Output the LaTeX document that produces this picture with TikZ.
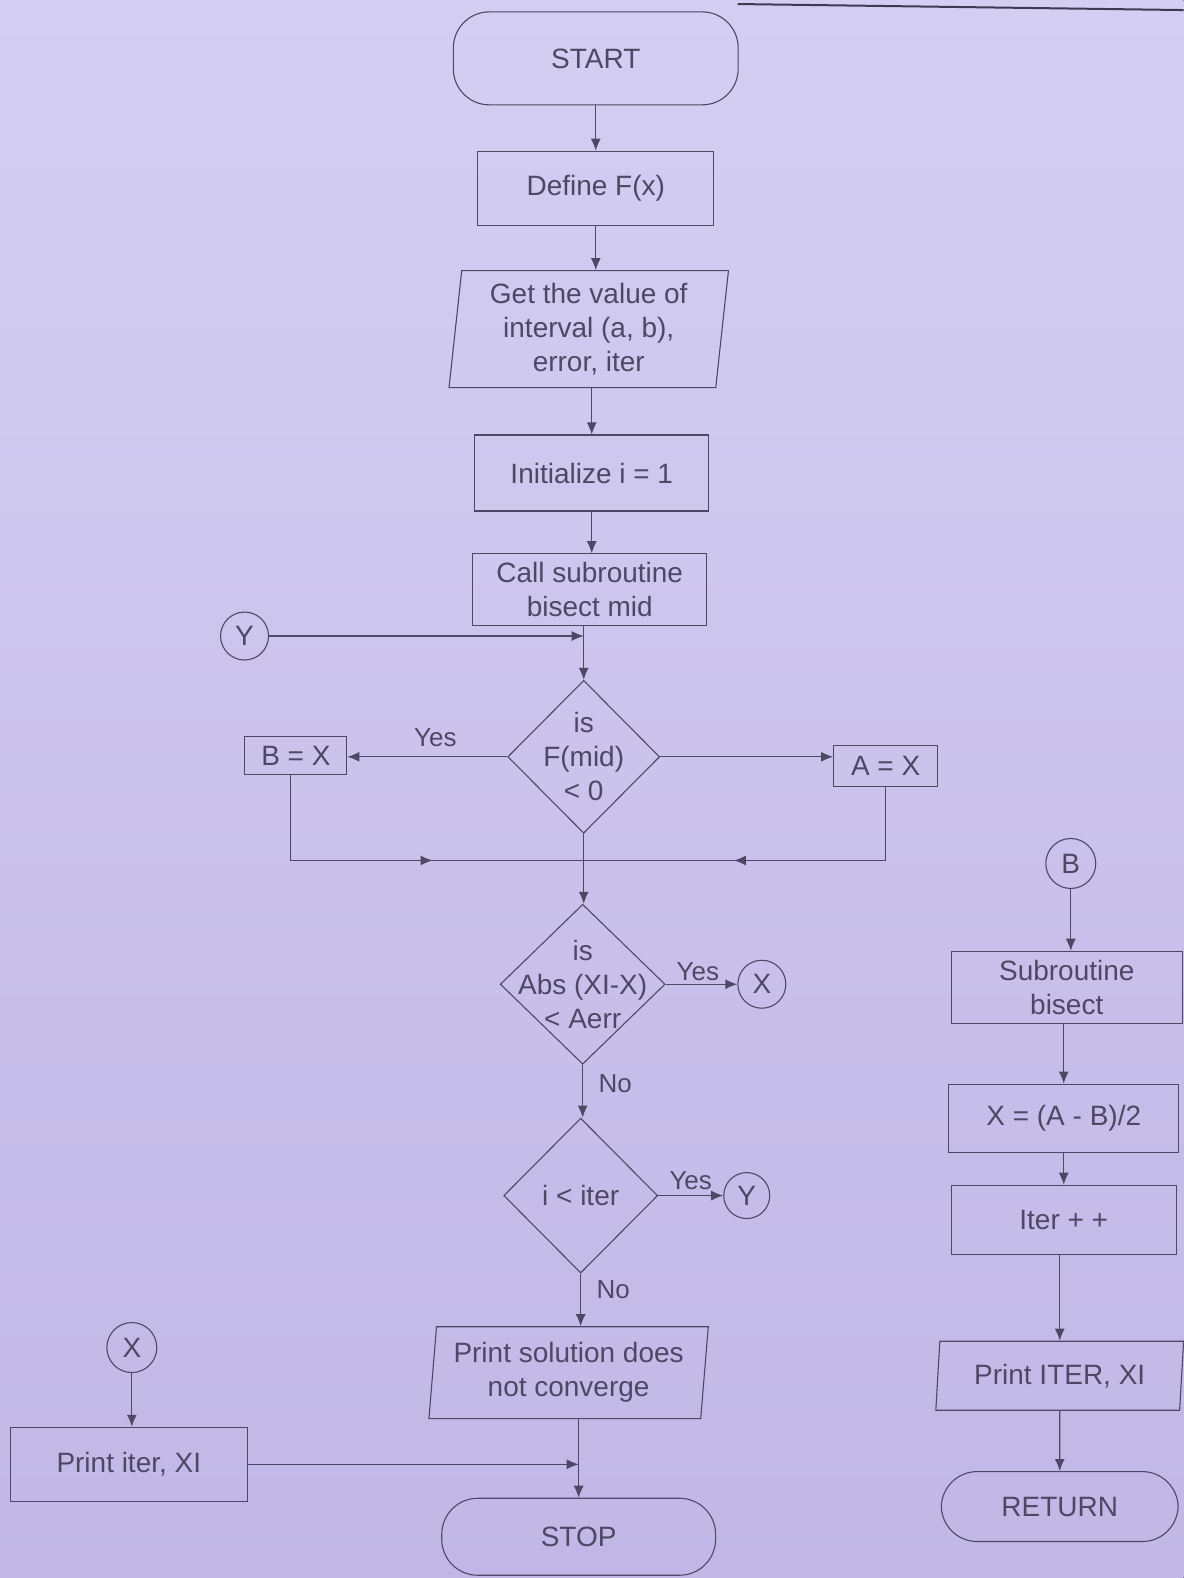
\documentclass[tikz,border=0pt]{standalone}
\usepackage{fontspec}
\setmainfont{Liberation Sans}
\usetikzlibrary{shapes.geometric,arrows.meta,decorations.markings}
\definecolor{ink}{RGB}{78,72,102}
\definecolor{bgtop}{RGB}{212,206,242}
\definecolor{bgbot}{RGB}{192,183,230}
\begin{document}
\begin{tikzpicture}[x=1.007pt,y=-1.007pt,
  every node/.style={text=ink,font=\fontsize{28}{34}\selectfont,align=center},
  box/.style={draw=ink,line width=1.1pt,rectangle,inner sep=2pt},
  term/.style={draw=ink,line width=1.1pt,rectangle,rounded corners=36pt,inner sep=2pt},
  io/.style={draw=ink,line width=1.1pt,trapezium,trapezium left angle=84,trapezium right angle=96,trapezium stretches=true,inner sep=2pt},
  dia/.style={draw=ink,line width=1.1pt,diamond,inner sep=0pt},
  conn/.style={draw=ink,line width=1.1pt,circle,inner sep=0pt},
  lbl/.style={font=\fontsize{26}{30}\selectfont},
  arr/.style={draw=ink,line width=1.1pt,-{Latex[length=12pt,width=10pt]}},
  ln/.style={draw=ink,line width=1.1pt},
  midarr/.style={draw=ink,line width=1.1pt,postaction={decorate},
    decoration={markings,mark=at position #1 with {\arrow{Latex[length=12pt,width=10pt]}}}}
]
\fill[top color=bgtop,bottom color=bgbot] (0,0) rectangle (1176,1568);
\useasboundingbox (0,0) rectangle (1176,1568);
\draw[line width=2pt,draw=ink!80!black] (733,4) -- (1176,10);

% main column
\node[term,minimum width=285pt,minimum height=93pt] (start) at (592,58) {START};
\node[box,minimum width=236pt,minimum height=74pt] (def) at (592,187) {Define F(x)};
\node[io,minimum width=280pt,minimum height=117pt] (get) at (585,327) {Get the value of\\interval (a, b),\\error, iter};
\node[box,minimum width=234pt,minimum height=76pt] (init) at (588,470) {Initialize i = 1};
\node[box,minimum width=234pt,minimum height=72pt] (call) at (586,586) {Call subroutine\\bisect mid};
\node[conn,minimum size=48pt] (y1) at (243,632) {Y};

\node[dia,minimum width=152pt,minimum height=153pt] (d1) at (580,752) {};
\node at (d1) {is\\F(mid)\\< 0};
\node[box,minimum width=102pt,minimum height=38pt] (bx) at (294,751) {B = X};
\node[box,minimum width=104pt,minimum height=41pt] (ax) at (880,761) {A = X};
\coordinate (mj) at (580,855);

\node[dia,minimum width=165pt,minimum height=160pt] (d2) at (579,978) {};
\node at (d2) {is\\Abs (XI-X)\\< Aerr};
\node[conn,minimum size=48pt] (x1) at (757,978) {X};

\node[dia,minimum width=154pt,minimum height=155pt] (d3) at (577,1188) {};
\node at (d3) {i < iter};
\node[conn,minimum size=46pt] (y2) at (742,1188) {Y};

\node[io,minimum width=280pt,minimum height=92pt] (ps) at (565,1364) {Print solution does\\not converge};
\node[term,minimum width=274pt,minimum height=77pt] (stop) at (575,1527) {STOP};

\node[conn,minimum size=50pt] (x2) at (131,1339) {X};
\node[box,minimum width=237pt,minimum height=74pt] (pi) at (128,1455) {Print iter, XI};

% subroutine column
\node[conn,minimum size=50pt] (bc) at (1064,858) {B};
\node[box,minimum width=231pt,minimum height=72pt] (sb) at (1060,981) {Subroutine\\bisect};
\node[box,minimum width=230pt,minimum height=68pt] (xe) at (1057,1111) {X = (A - B)/2};
\node[box,minimum width=225pt,minimum height=69pt] (it) at (1057,1212) {Iter + +};
\node[io,minimum width=248pt,minimum height=69pt] (pit) at (1053,1367) {Print ITER, XI};
\node[term,minimum width=237pt,minimum height=70pt] (ret) at (1053,1497) {RETURN};

% connectors main
\path[arr] (start) -- (def);
\path[arr] (def) -- (def |- get.north);
\path[arr] (init.north |- get.south) -- (init.north);
\path[arr] (init.south) -- (init.south |- call.north);
\path[arr] (call.south -| d1.north) -- (d1.north);
\coordinate (yj) at (d1.north |- y1);
\path[arr] (y1) -- (yj);
\path[arr] (d1.west) -- node[lbl,above=6pt,pos=0.45] {Yes} (d1.west -| bx.east);
\path[arr] (d1.east) -- (ax.west |- d1.east);
\path[midarr=0.6] ([xshift=-5pt]bx.south) |- (mj);
\path[midarr=0.6] (ax.south) |- (mj);
\path[ln] (d1.south) -- (mj);
\path[arr] (mj) -- (mj |- d2.north);
\path[arr] (d2.south) -- node[lbl,right=12pt,pos=0.35] {No} (d3.north -| d2.south);
\path[arr] (d2.east) -- node[lbl,above=0pt,pos=0.45] {Yes} (x1.west);
\path[arr] (d3.east) -- node[lbl,above=2pt,pos=0.5] {Yes} (y2.west);
\path[arr] (d3.south) -- node[lbl,right=12pt,pos=0.3] {No} (d3.south |- ps.north);
\path[arr] (ps.south -| stop.north) -- (stop.north);
\path[arr] (x2) -- (x2 |- pi.north);
\coordinate (sj) at (stop.north |- pi.east);
\path[arr] (pi.east) -- (sj);

% connectors subroutine
\path[arr] (bc) -- (bc |- sb.north);
\path[arr] (sb.south -| xe.north) -- (xe.north);
\path[arr] (xe) -- (it);
\path[arr] (it.south -| pit.north) -- (pit.north);
\path[arr] (pit) -- (ret);
\end{tikzpicture}
\end{document}
